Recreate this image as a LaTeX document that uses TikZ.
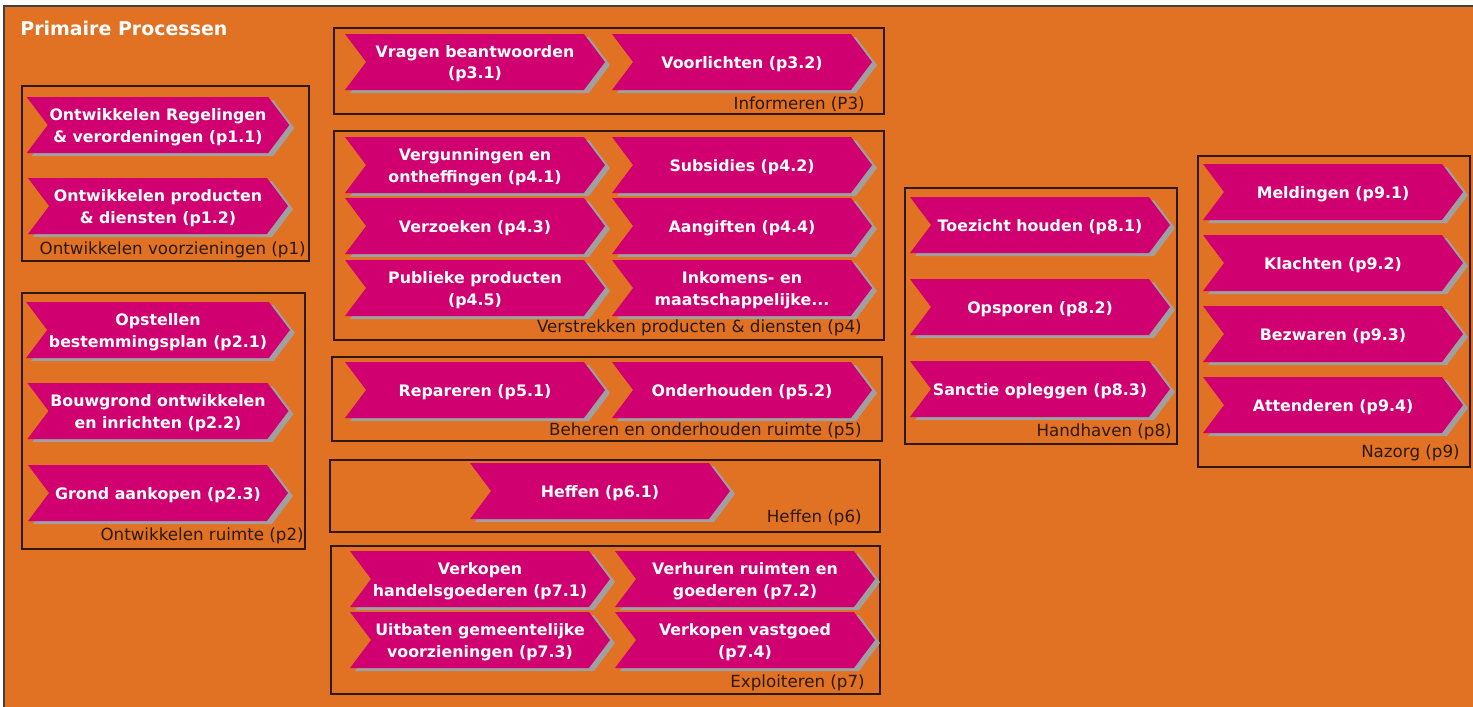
\documentclass[tikz,border=0pt]{standalone}
\usepackage{fontspec}
\setmainfont{DejaVu Sans}
\usetikzlibrary{shapes.symbols,shadows}
\definecolor{bgorange}{RGB}{225,113,35}
\definecolor{procpink}{RGB}{208,0,112}
\definecolor{shadowgray}{RGB}{160,160,160}
\definecolor{linedark}{RGB}{45,25,10}

\begin{document}
\begin{tikzpicture}[
  x=0.2mm, y=-0.2mm,
  proc/.style={shape=signal, signal from=west, signal to=east, signal pointer angle=106,
    fill=procpink, minimum width=52mm, minimum height=11.2mm, inner sep=1pt, text depth=0pt,
    text=white, align=center, font=\bfseries\fontsize{9}{12.5}\selectfont,
    drop shadow={shadow xshift=1mm, shadow yshift=-0.6mm, fill=shadowgray, opacity=1}},
  grp/.style={draw=linedark, line width=0.3mm},
  grplbl/.style={anchor=east, inner sep=0pt, text=linedark, font=\fontsize{9.5}{10}\selectfont},
  title/.style={anchor=west, inner sep=0pt, text=white, font=\bfseries\fontsize{10.8}{12}\selectfont},
]
  \useasboundingbox (0,0) rectangle (1473,706);
  \clip (0,0) rectangle (1473,706);
  \fill[bgorange] (4,6) rectangle (1490,720);
  \draw[gray!50!black, line width=0.4mm] (4,720) -- (4,6) -- (1490,6);
  \node[title] (title) at (20,28) {Primaire Processen};

  % Ontwikkelen voorzieningen (p1)
  \draw[grp] (22,86) rectangle (309,261);
  \node[proc] (p11) at (158,125) {Ontwikkelen Regelingen\\\& verordeningen (p1.1)};
  \node[proc] (p12) at (158,206) {Ontwikkelen producten\\\& diensten (p1.2)};
  \node[grplbl] (l1) at (306,250) {Ontwikkelen voorzieningen (p1)};

  % Ontwikkelen ruimte (p2)
  \draw[grp] (22,293) rectangle (305,549);
  \node[proc] (p21) at (158,330) {Opstellen\\bestemmingsplan (p2.1)};
  \node[proc] (p22) at (158,411) {Bouwgrond ontwikkelen\\en inrichten (p2.2)};
  \node[proc] (p23) at (158,493) {Grond aankopen (p2.3)};
  \node[grplbl] (l2) at (304,536) {Ontwikkelen ruimte (p2)};

  % Informeren (P3)
  \draw[grp] (334,28) rectangle (884,114);
  \node[proc] (p31) at (475,62) {Vragen beantwoorden\\(p3.1)};
  \node[proc] (p32) at (742,62) {Voorlichten (p3.2)};
  \node[grplbl] (l3) at (865,104) {Informeren (P3)};

  % Verstrekken producten & diensten (p4)
  \draw[grp] (334,131) rectangle (884,340);
  \foreach \i/\x/\y/\txt in {1/475/165/{Vergunningen en\\ontheffingen (p4.1)},
      2/742/165/{Subsidies (p4.2)}, 3/475/226/{Verzoeken (p4.3)},
      4/742/226/{Aangiften (p4.4)}, 5/475/288/{Publieke producten\\(p4.5)},
      6/742/288/{Inkomens- en\\maatschappelijke...}} {
    \node[proc] (p4\i) at (\x,\y) {\txt};
  }
  \node[grplbl] (l4) at (862,328) {Verstrekken producten \& diensten (p4)};

  % Beheren en onderhouden ruimte (p5)
  \draw[grp] (332,357) rectangle (882,441);
  \node[proc] (p51) at (475,390) {Repareren (p5.1)};
  \node[proc] (p52) at (742,390) {Onderhouden (p5.2)};
  \node[grplbl] (l5) at (862,431) {Beheren en onderhouden ruimte (p5)};

  % Heffen (p6)
  \draw[grp] (330,460) rectangle (880,532);
  \node[proc] (p61) at (600,491) {Heffen (p6.1)};
  \node[grplbl] (l6) at (862,518) {Heffen (p6)};

  % Exploiteren (p7)
  \draw[grp] (331,546) rectangle (880,694);
  \node[proc] (p71) at (480,579) {Verkopen\\handelsgoederen (p7.1)};
  \node[proc] (p72) at (745,579) {Verhuren ruimten en\\goederen (p7.2)};
  \node[proc] (p73) at (480,640) {Uitbaten gemeentelijke\\voorzieningen (p7.3)};
  \node[proc] (p74) at (745,640) {Verkopen vastgoed\\(p7.4)};
  \node[grplbl] (l7) at (865,683) {Exploiteren (p7)};

  % Handhaven (p8)
  \draw[grp] (905,188) rectangle (1177,444);
  \foreach \i/\y/\txt in {1/225/Toezicht houden, 2/307/Opsporen, 3/389/Sanctie opleggen} {
    \node[proc] (p8\i) at (1040,\y) {\txt{} (p8.\i)};
  }
  \node[grplbl] (l8) at (1172,432) {Handhaven (p8)};

  % Nazorg (p9)
  \draw[grp] (1198,156) rectangle (1470,467);
  \foreach \i/\y/\txt in {1/192/Meldingen, 2/263/Klachten, 3/334/Bezwaren, 4/405/Attenderen} {
    \node[proc] (p9\i) at (1333,\y) {\txt{} (p9.\i)};
  }
  \node[grplbl] (l9) at (1460,453) {Nazorg (p9)};
\end{tikzpicture}
\end{document}
